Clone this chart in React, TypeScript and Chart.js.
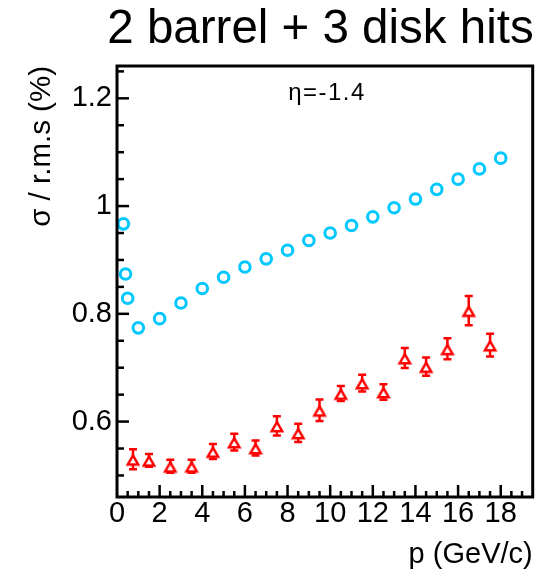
import React, { useEffect, useRef } from 'react';
import { Chart, registerables } from 'chart.js';

Chart.register(...registerables);

// ---- data ----
const cyanP = [0.3, 0.4, 0.5, 1, 2, 3, 4, 5, 6, 7, 8, 9, 10, 11, 12, 13, 14, 15, 16, 17, 18];
const cyanSigma = [0.967, 0.874, 0.829, 0.774, 0.791, 0.82, 0.847, 0.868, 0.887, 0.902, 0.918, 0.936, 0.95, 0.964, 0.98, 0.997, 1.013, 1.031, 1.05, 1.069, 1.089];

const redP = [0.75, 1.5, 2.5, 3.5, 4.5, 5.5, 6.5, 7.5, 8.5, 9.5, 10.5, 11.5, 12.5, 13.5, 14.5, 15.5, 16.5, 17.5];
const redSigma = [0.53, 0.528, 0.517, 0.517, 0.5445, 0.562, 0.551, 0.592, 0.579, 0.621, 0.652, 0.6715, 0.655, 0.718, 0.702, 0.735, 0.806, 0.742];
const redErr = [0.0186, 0.012, 0.012, 0.012, 0.014, 0.0155, 0.014, 0.018, 0.017, 0.02, 0.014, 0.0155, 0.0145, 0.0186, 0.017, 0.0195, 0.027, 0.021];

const xTickValues = [0, 2, 4, 6, 8, 10, 12, 14, 16, 18];
const yTickValues = [0.6, 0.8, 1.0, 1.2];

const titleText = '2 barrel + 3 disk hits';
const etaText = 'η=-1.4';
const xTitle = 'p (GeV/c)';
const yTitle = 'σ / r.m.s (%)';

const X_MIN = 0;
const X_MAX = 19.5;
const Y_MIN = 0.46;
const Y_MAX = 1.26;

const CYAN = '#00c8ff';
const RED = '#ff0000';
const FONT = 'Liberation Sans, Arial, Helvetica, sans-serif';

function makeTriangle(): HTMLCanvasElement {
  const c = document.createElement('canvas');
  const s = 20;
  c.width = s;
  c.height = s;
  const ctx = c.getContext('2d')!;
  const r = 6;
  const lw = 2.5;
  const cx = s / 2;
  const cy = s / 2 + r / 4 + lw / 4;
  ctx.beginPath();
  for (let k = 0; k < 3; k++) {
    const a = (k * 2 * Math.PI) / 3;
    const px = cx + Math.sin(a) * r;
    const py = cy - Math.cos(a) * r;
    if (k === 0) ctx.moveTo(px, py);
    else ctx.lineTo(px, py);
  }
  ctx.closePath();
  ctx.fillStyle = '#ffffff';
  ctx.fill();
  ctx.lineWidth = lw;
  ctx.strokeStyle = RED;
  ctx.stroke();
  return c;
}

const decorPlugin = {
  id: 'decor',
  beforeDatasetsDraw(chart: any) {
    const ctx = chart.ctx;
    const xs = chart.scales.x;
    const ys = chart.scales.y;
    ctx.save();
    ctx.strokeStyle = RED;
    ctx.lineWidth = 2.5;
    const cap = 4;
    redP.forEach((p, i) => {
      const x = xs.getPixelForValue(p);
      const y1 = ys.getPixelForValue(redSigma[i] + redErr[i]);
      const y2 = ys.getPixelForValue(redSigma[i] - redErr[i]);
      ctx.beginPath();
      ctx.moveTo(x, y1);
      ctx.lineTo(x, y2);
      ctx.moveTo(x - cap, y1);
      ctx.lineTo(x + cap, y1);
      ctx.moveTo(x - cap, y2);
      ctx.lineTo(x + cap, y2);
      ctx.stroke();
    });
    ctx.restore();
  },
  afterDatasetsDraw(chart: any) {
    const ctx = chart.ctx;
    const { left, right, top, bottom } = chart.chartArea;
    const xs = chart.scales.x;
    const ys = chart.scales.y;
    ctx.save();
    ctx.strokeStyle = '#000';
    ctx.lineWidth = 2.5;
    ctx.lineCap = 'butt';
    for (let i = 0; i <= Math.round((X_MAX - X_MIN) / 0.5); i++) {
      const v = X_MIN + i * 0.5;
      if (v <= X_MIN || v >= X_MAX) continue;
      const x = xs.getPixelForValue(v);
      const len = i % 4 === 0 ? 12 : 6;
      ctx.beginPath();
      ctx.moveTo(x, bottom);
      ctx.lineTo(x, bottom - len);
      ctx.stroke();
    }
    const i0 = Math.ceil(Y_MIN / 0.05 - 1e-6);
    const i1 = Math.floor(Y_MAX / 0.05 + 1e-6);
    for (let i = i0; i <= i1; i++) {
      const v = i * 0.05;
      const y = ys.getPixelForValue(v);
      const len = i % 4 === 0 ? 12 : 7;
      ctx.beginPath();
      ctx.moveTo(left, y);
      ctx.lineTo(left + len, y);
      ctx.stroke();
    }
    ctx.lineWidth = 3;
    ctx.strokeRect(left, top, right - left, bottom - top);
    ctx.restore();
  },
  afterDraw(chart: any) {
    const ctx = chart.ctx;
    const { right } = chart.chartArea;
    ctx.save();
    ctx.fillStyle = '#000';
    ctx.font = `47.5px ${FONT}`;
    ctx.textAlign = 'right';
    ctx.textBaseline = 'alphabetic';
    ctx.fillText(titleText, right + 1, 43);
    ctx.font = `24px ${FONT}`;
    ctx.textAlign = 'center';
    try { (ctx as any).letterSpacing = '1.5px'; } catch (e) {}
    ctx.fillText(etaText, 327, 100);
    ctx.restore();
  },
};

export default function App() {
  const ref = useRef<HTMLCanvasElement>(null);
  useEffect(() => {
    const canvas = ref.current!;
    const tri = makeTriangle();
    const chart = new Chart(canvas, {
      type: 'scatter',
      data: {
        datasets: [
          {
            data: cyanP.map((p, i) => ({ x: p, y: cyanSigma[i] })),
            pointStyle: 'circle',
            radius: 5.3,
            borderWidth: 3,
            borderColor: CYAN,
            backgroundColor: 'rgba(0,0,0,0)',
            clip: false,
          } as any,
          {
            data: redP.map((p, i) => ({ x: p, y: redSigma[i] })),
            pointStyle: tri as any,
            radius: 7,
            borderColor: RED,
            backgroundColor: '#fff',
            clip: false,
          } as any,
        ],
      },
      options: {
        animation: false,
        responsive: false,
        maintainAspectRatio: false,
        devicePixelRatio: 1,
        layout: { padding: { left: 0, right: 4.5, top: 66, bottom: 0 } },
        plugins: { legend: { display: false }, tooltip: { enabled: false }, title: { display: false } },
        scales: {
          x: {
            type: 'linear',
            min: X_MIN,
            max: X_MAX,
            grid: { display: false, drawTicks: false, tickLength: 0 },
            border: { display: false },
            afterBuildTicks: (s: any) => { s.ticks = xTickValues.map((v) => ({ value: v })); },
            afterFit: (s: any) => { s.height = 73; },
            ticks: {
              autoSkip: false,
              maxRotation: 0,
              padding: 0,
              color: '#000',
              font: { family: FONT, size: 29 },
              callback: (v: any) => String(v),
            },
            title: {
              display: true,
              text: xTitle,
              align: 'end',
              color: '#000',
              font: { family: FONT, size: 29, lineHeight: 1.0 },
              padding: { top: 0, bottom: 1 },
            },
          },
          y: {
            type: 'linear',
            min: Y_MIN,
            max: Y_MAX,
            grid: { display: false, drawTicks: false, tickLength: 0 },
            border: { display: false },
            afterBuildTicks: (s: any) => { s.ticks = yTickValues.map((v) => ({ value: v })); },
            afterFit: (s: any) => { s.width = 117; },
            ticks: {
              autoSkip: false,
              padding: 5,
              color: '#000',
              font: { family: FONT, size: 29 },
              callback: (v: any) => String(Number(Number(v).toFixed(2))),
            },
            title: {
              display: true,
              text: yTitle,
              align: 'end',
              color: '#000',
              font: { family: FONT, size: 29.5, lineHeight: 1.2 },
              padding: { top: 24, bottom: 0 },
            },
          },
        },
      },
      plugins: [decorPlugin],
    } as any);
    return () => chart.destroy();
  }, []);
  return (
    <div style={{ position: 'fixed', left: 0, top: 0, width: 541, height: 570, background: '#fff' }}>
      <canvas ref={ref} width={541} height={570} style={{ width: 541, height: 570, display: 'block' }} />
    </div>
  );
}
